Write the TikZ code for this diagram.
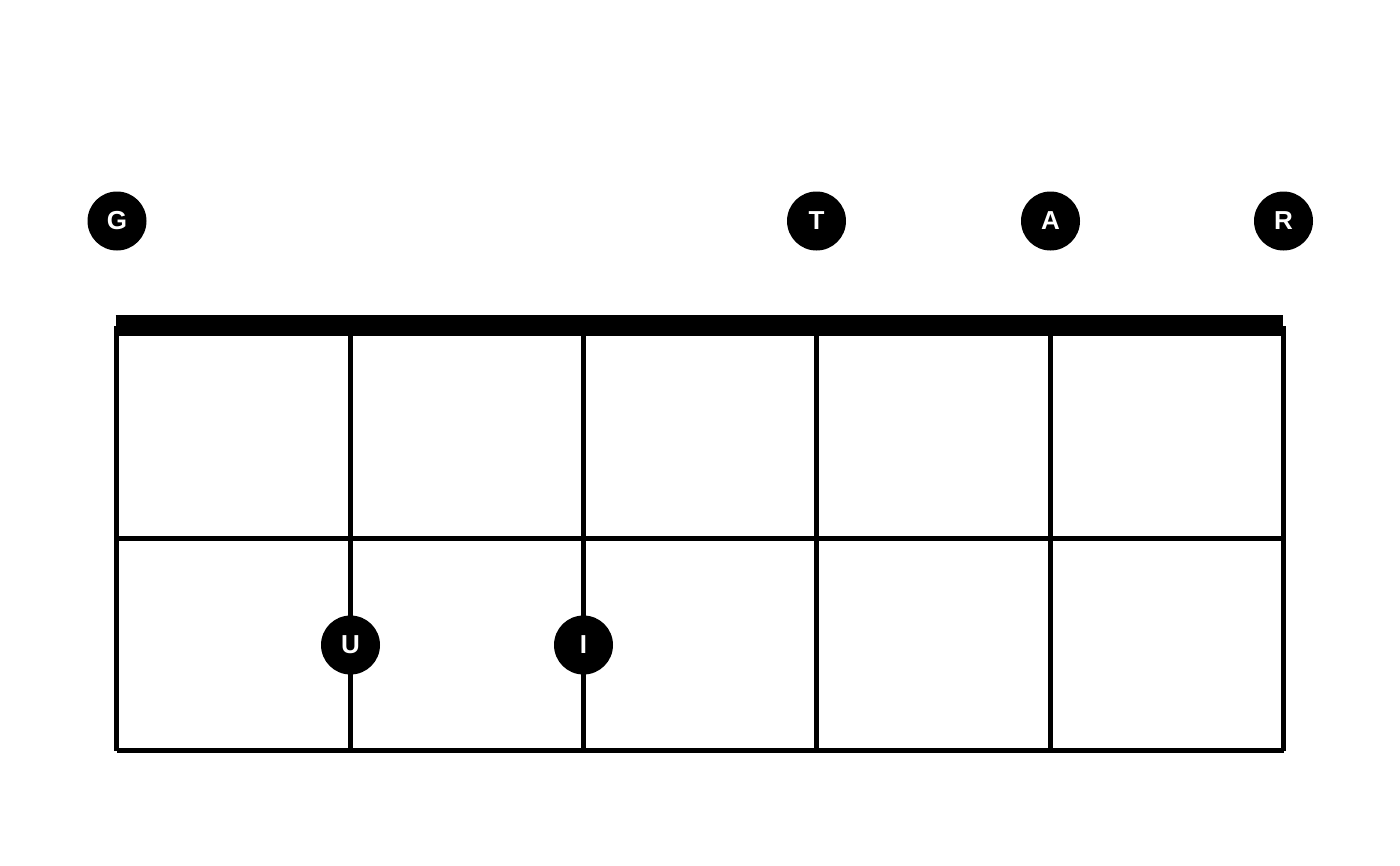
\documentclass[tikz,border=0pt]{standalone}
\usepackage{fontspec}
\setmainfont{Liberation Sans}
\begin{document}
\begin{tikzpicture}[x=1pt,y=-1pt,
  fret/.style={line width=5pt,black},
  nut/.style={line width=21pt,black},
  dot/.style={circle,fill=black,minimum size=59pt,inner sep=0pt,text=white,font=\fontsize{26}{26}\selectfont\bfseries}]
\useasboundingbox (0,0) rectangle (1400,865);
% string coordinates
\foreach \i/\x in {1/116.5,2/350.5,3/583.5,4/816.5,5/1050.5,6/1283.5}{
  \coordinate (t\i) at (\x,326);
  \coordinate (b\i) at (\x,750.5);
  \coordinate (m\i) at (\x,538.5);
}
\foreach \i in {1,...,6}{ \draw[fret] (t\i) -- (b\i); }
\draw[fret] (m1) -- (m6);
\draw[fret,line cap=rect] ([xshift=2.5pt]b1) -- ([xshift=-2.5pt]b6);
\draw[nut] ([xshift=-1pt]t1|-0,325.5) -- ([xshift=-1pt]t6|-0,325.5);
% dots
\node[dot] (G) at (117,221) {G};
\node[dot] (T) at (816.5,221) {T};
\node[dot] (A) at (1050.5,221) {A};
\node[dot] (R) at (1283.5,221) {R};
\node[dot] (U) at (350.5,645) {U};
\node[dot] (I) at (583.5,645) {I};
\end{tikzpicture}
\end{document}
